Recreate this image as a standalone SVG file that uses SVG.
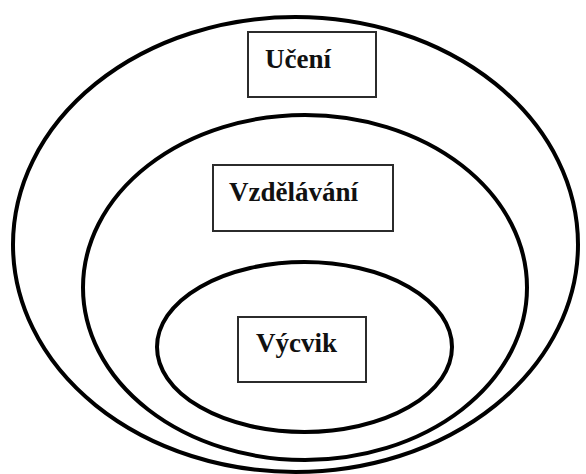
<svg xmlns="http://www.w3.org/2000/svg" width="586" height="474" viewBox="0 0 586 474">
  <style>
    .ring { fill: none; stroke: #000; stroke-width: 4; }
    .box { fill: #fff; stroke: #2b2b2b; stroke-width: 2; }
    .label { font-family: 'Liberation Serif', 'DejaVu Serif', serif; font-weight: 700; font-size: 27px; fill: #111; }
  </style>
  <rect width="586" height="474" fill="#fff"/>

  <!-- nested scopes: outer, middle, inner -->
  <g id="rings">
    <ellipse class="ring" cx="295.5" cy="244.5" rx="282.5" ry="227.5"/>
    <ellipse class="ring" cx="305" cy="287.5" rx="222" ry="172.5"/>
    <ellipse class="ring" cx="304.5" cy="347" rx="147.5" ry="85"/>
  </g>

  <g id="uceni">
    <rect class="box" x="248" y="32" width="128" height="65"/>
    <text class="label" x="265" y="68" font-family="Liberation Serif, serif">Učení</text>
  </g>

  <g id="vzdelavani">
    <rect class="box" x="213" y="165" width="180" height="66"/>
    <text class="label" x="229" y="201" font-family="Liberation Serif, serif">Vzdělávání</text>
  </g>

  <g id="vycvik">
    <rect class="box" x="238" y="317" width="128" height="65"/>
    <text class="label" x="256" y="352" font-family="Liberation Serif, serif">Výcvik</text>
  </g>
</svg>
